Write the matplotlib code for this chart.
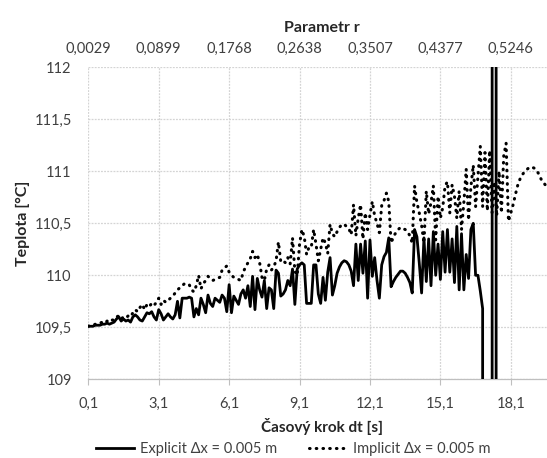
import numpy as np
import matplotlib
matplotlib.use("Agg")
import matplotlib.pyplot as plt

plt.rcParams["font.family"] = ["Lato", "DejaVu Sans"]

# time step dt [s], categories 0.1 ... 20.0
dt_steps = np.arange(1, 201) / 10

nan = np.nan
explicit = [
    109.51, 109.51, 109.51, 109.52, 109.52, 109.52, 109.53, 109.53, 109.54, 109.53, 109.54,
    109.55, 109.58, 109.60, 109.56, 109.58, 109.56, 109.57, 109.55, 109.60, 109.62,
    109.60, 109.57, 109.56, 109.60, 109.64, 109.63, 109.65, 109.60, 109.57, 109.67,
    109.63, 109.57, 109.60, 109.63, 109.60, 109.58, 109.62, 109.75, 109.59, 109.78,
    109.78, 109.78, 109.79, 109.78, 109.60, 109.68, 109.62, 109.78, 109.72, 109.64,
    109.81, 109.73, 109.70, 109.78, 109.76, 109.74, 109.81, 109.78, 109.65, 109.91,
    109.64, 109.80, 109.76, 109.72, 109.82, 109.86, 109.78, 109.90, 109.70, 109.99,
    109.67, 109.97, 109.86, 109.79, 109.95, 109.68, 109.88, 109.86, 109.68, 110.05,
    110.02, 109.80, 109.82, 109.86, 109.95, 109.90, 110.06, 109.72, 110.06, 110.10,
    110.12, 110.10, 109.73, 109.73, 109.73, 110.10, 110.10, 109.82, 109.73, 109.98,
    109.76, 110.03, 110.17, 109.81, 109.90, 110.02, 110.08, 110.12, 110.14, 110.13,
    110.10, 110.04, 109.90, 110.30, 109.95, 110.30, 110.02, 110.33, 109.78, 110.34,
    109.99, 110.17, 109.95, 109.78, 110.10, 110.18, 110.22, 110.36, 109.89, 109.94,
    109.98, 110.01, 110.04, 110.04, 110.02, 109.98, 109.93, 109.83, 110.44, 110.37,
    110.12, 109.83, 110.36, 109.94, 110.35, 109.90, 110.42, 110.00, 110.30, 109.96,
    110.42, 110.03, 110.44, 110.03, 110.35, 109.93, 110.47, 109.86, 110.40, 109.86,
    110.20, 109.97, 110.44, 110.50, 110.00, 110.00, 109.85, 109.68, -800.0, -3000.0,
    -20000.0, -1000.0, 21000.0, -7000.0, nan, nan, nan, nan, nan, nan,
    nan, nan, nan, nan, nan, nan, nan, nan, nan, nan,
    nan, nan, nan, nan, nan, nan, nan, nan, nan,
]

implicit = [
    109.51, 109.52, 109.52, 109.53, 109.53, 109.54, 109.55, 109.54, 109.56, 109.55, 109.57,
    109.57, 109.60, 109.61, 109.58, 109.60, 109.59, 109.61, 109.60, 109.64, 109.67,
    109.65, 109.69, 109.72, 109.67, 109.72, 109.70, 109.73, 109.71, 109.74, 109.78,
    109.72, 109.76, 109.74, 109.76, 109.78, 109.80, 109.83, 109.86, 109.88, 109.90,
    109.92, 109.92, 109.91, 109.86, 109.84, 109.90, 110.00, 109.87, 109.92, 109.95,
    109.99, 109.97, 109.95, 109.96, 109.97, 109.98, 110.05, 110.07, 110.09, 110.03,
    110.00, 109.98, 109.97, 109.96, 109.95, 110.03, 110.08, 110.12, 110.16, 110.23,
    110.17, 110.20, 110.12, 109.98, 109.95, 110.06, 110.10, 110.05, 110.08, 110.14,
    110.32, 110.13, 110.14, 110.12, 110.17, 110.11, 110.36, 110.04, 110.00, 110.30,
    110.44, 110.37, 110.20, 110.27, 110.27, 110.44, 110.30, 110.14, 110.25, 110.36,
    110.31, 110.21, 110.49, 110.40, 110.37, 110.42, 110.46, 110.49, 110.49, 110.47,
    110.45, 110.39, 110.68, 110.38, 110.55, 110.68, 110.35, 110.60, 110.44, 110.58,
    110.71, 110.57, 110.50, 110.41, 110.67, 110.72, 110.79, 110.71, 110.31, 110.37,
    110.41, 110.44, 110.46, 110.45, 110.44, 110.42, 110.38, 110.31, 110.86, 110.70,
    110.60, 110.48, 110.31, 110.81, 110.59, 110.70, 110.86, 110.34, 110.76, 110.55,
    110.65, 110.86, 110.90, 110.60, 110.87, 110.76, 110.55, 110.81, 110.44, 110.70,
    111.02, 110.53, 110.85, 111.06, 110.66, 110.95, 111.24, 110.66, 111.18, 110.62,
    111.20, 110.60, 110.90, 110.57, 111.00, 110.60, 111.15, 111.27, 110.52, 110.60,
    110.68, 110.78, 110.87, 110.93, 110.97, 111.00, 111.02, 111.04, 111.04, 111.03,
    111.01, 110.97, 110.92, 110.89, 110.86, 110.82, 110.78, 110.73, 110.68,
]

x_ticks = [0.1, 3.1, 6.1, 9.1, 12.1, 15.1, 18.1]
x_labels = ["0,1", "3,1", "6,1", "9,1", "12,1", "15,1", "18,1"]
r_labels = ["0,0029", "0,0899", "0,1768", "0,2638", "0,3507", "0,4377", "0,5246"]
y_ticks = [109, 109.5, 110, 110.5, 111, 111.5, 112]
y_labels = ["109", "109,5", "110", "110,5", "111", "111,5", "112"]

W, H = 547, 458
fig = plt.figure(figsize=(W / 100, H / 100), dpi=100)
# plot area runs past the right edge (the original is cropped there)
ax = fig.add_axes([88.3 / W, 1 - 379.3 / H, 467.1 / W, 312 / H])

ax.plot(dt_steps, explicit, color="black", lw=2.0, label="Explicit Δx = 0.005 m", zorder=3)
ax.plot(dt_steps, implicit, color="black", lw=2.2, linestyle=(0, (0.2, 2.0)),
        dash_capstyle="round", label="Implicit Δx = 0.005 m", zorder=3)

ax.set_xlim(0.1, 20.0)
ax.set_ylim(109, 112)
ax.set_xticks(x_ticks)
ax.set_xticklabels(x_labels)
ax.set_yticks(y_ticks)
ax.set_yticklabels(y_labels)
ax.grid(True, color="#d4d4d4", lw=0.9, linestyle=(0, (1.5, 1)))
ax.set_axisbelow(True)
for s in ["top", "right", "left"]:
    ax.spines[s].set_visible(False)
ax.spines["bottom"].set_color("#bfbfbf")
ax.spines["bottom"].set_linewidth(0.9)
ax.tick_params(axis="x", length=4, color="#bfbfbf", pad=9, labelsize=10.5, labelcolor="#404040")
ax.tick_params(axis="y", length=0, pad=12, labelsize=10.5, labelcolor="#404040")

ax.set_xlabel("Časový krok dt [s]", fontsize=11, fontweight="bold", color="#262626", labelpad=5)
ax.set_ylabel("Teplota [°C]", fontsize=11.5, fontweight="bold", color="#262626", labelpad=3)

top = ax.twiny()
top.set_xlim(ax.get_xlim())
top.set_xticks(x_ticks)
top.set_xticklabels(r_labels)
top.tick_params(axis="x", length=0, pad=8, labelsize=10.5, labelcolor="#404040")
for s in top.spines.values():
    s.set_visible(False)
top.set_xlabel("Parametr r", fontsize=11.5, fontweight="bold", color="#262626", labelpad=7)

fig.legend(loc="center", bbox_to_anchor=(293.5 / W, 1 - 449 / H), ncol=2, frameon=False,
           fontsize=10.5, handlelength=2.6, handletextpad=0.4, columnspacing=2.2,
           labelcolor="#404040")

fig.savefig("out.png", dpi=100)
